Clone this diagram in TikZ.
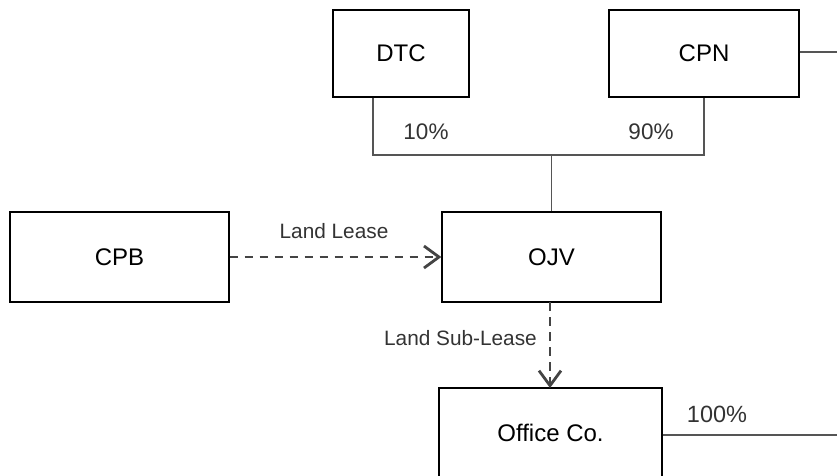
\documentclass[tikz,border=0pt]{standalone}
\usepackage{fontspec}
\setmainfont{Liberation Sans}
\usetikzlibrary{arrows.meta}
\definecolor{lin}{HTML}{555555}
\definecolor{dsh}{HTML}{444444}
\definecolor{lbl}{HTML}{333333}
\tikzset{
  boxnode/.style={draw=black, line width=1.3pt, minimum height=87pt, inner sep=0pt,
    font=\fontsize{24}{28}\selectfont, text=black},
  tree/.style={draw=lin, line width=1.2pt},
  lease/.style={draw=dsh, line width=2.8pt, dash pattern=on 8.5pt off 6.5pt,
    -{Straight Barb[length=15pt,width=22pt,line width=2.8pt]}},
  pct/.style={font=\fontsize{22.5}{26}\selectfont, text=lbl, inner sep=0pt, anchor=base},
  small/.style={font=\fontsize{20.8}{24}\selectfont, text=lbl, inner sep=0pt, anchor=base}
}
\begin{document}
\begin{tikzpicture}[x=1pt,y=-1pt]
\useasboundingbox (0,0) rectangle (837,475);
\begin{scope}
\clip (0,0) rectangle (837,475);
\node[boxnode, minimum width=136pt] (dtc) at (401,53.5) {DTC};
\node[boxnode, minimum width=190pt] (cpn) at (704,53.5) {CPN};
\node[boxnode, minimum width=219pt, minimum height=90pt] (cpb) at (119.5,257) {CPB};
\node[boxnode, minimum width=219pt, minimum height=90pt] (ojv) at (551.5,257) {OJV};
\node[boxnode, minimum width=223pt, minimum height=90pt] (off) at (550.5,433) {Office Co.};

\coordinate (cpnr) at (837,52);
\coordinate (offr) at (837,435);
\coordinate (jl) at (373,155);
\coordinate (jr) at (704,155);
\coordinate (jm) at (551.5,155);

\draw[tree] (dtc.south -| jl) -- (jl) -- (jr) -- (cpn.south);
\draw[tree] (jm) -- (ojv.north);
\draw[tree] (cpn.east |- cpnr) -- (cpnr);
\draw[tree] (off.east |- offr) -- (offr);

\draw[lease] (cpb.east) -- (ojv.west);
\draw[lease] (550,302) -- (550,388);

\node[pct] (p10) at (426,139) {10\%};
\node[pct] (p90) at (651,139) {90\%};
\node[pct, font=\fontsize{23.5}{28}\selectfont] (p100) at (717,422) {100\%};
\node[small] (ll) at (334,238) {Land Lease};
\node[small, anchor=base east] (lsl) at (537,345) {Land Sub-Lease};
\end{scope}
\end{tikzpicture}
\end{document}
